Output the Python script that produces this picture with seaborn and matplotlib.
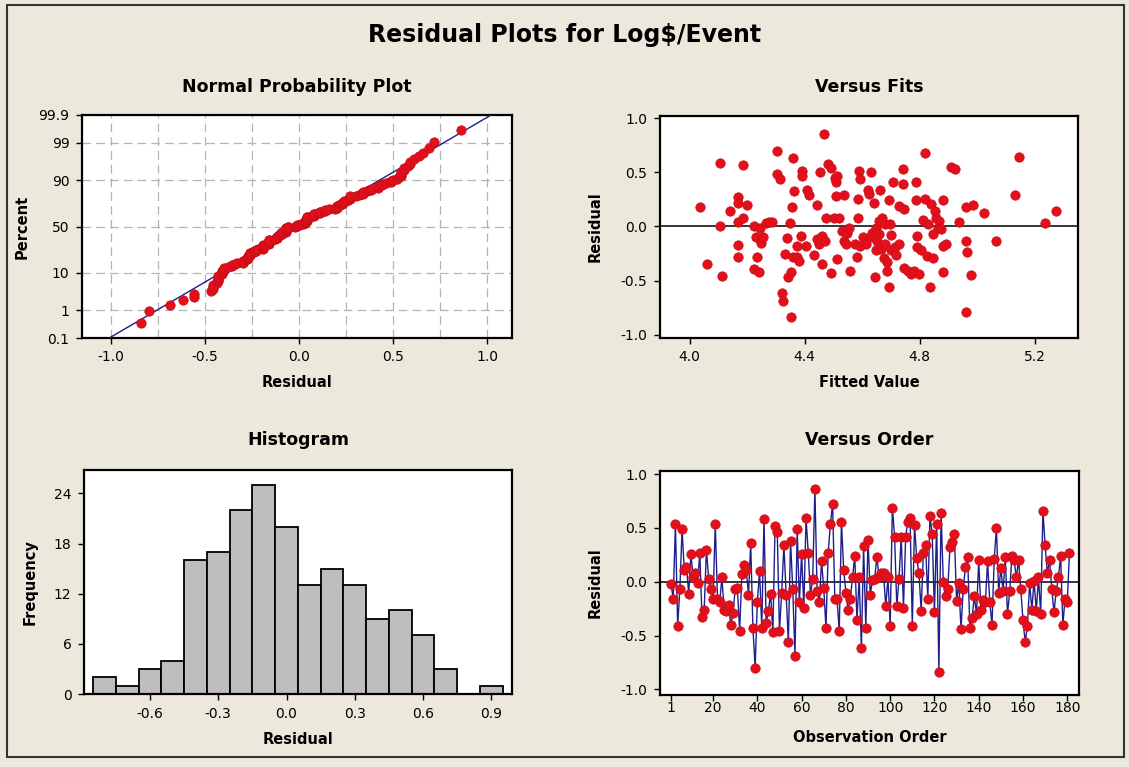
import numpy as np
import pandas as pd
import matplotlib
matplotlib.use("Agg")
import matplotlib.pyplot as plt
import seaborn as sns
from matplotlib.patches import Rectangle
from matplotlib.ticker import FormatStrFormatter

# ---------------- data ----------------
# residuals in observation order (Versus Order panel)
residuals = [
    -0.02, -0.16, 0.54, -0.41, -0.07, 0.49, 0.11, 0.14, -0.11, 0.26,
    0.04, 0.08, -0.01, 0.27, -0.33, -0.26, 0.30, 0.03, -0.07, -0.16,
    0.54, -0.16, -0.19, 0.04, -0.26, -0.27, -0.22, -0.40, -0.29, -0.07,
    -0.06, -0.46, 0.07, 0.16, 0.11, -0.12, 0.36, -0.43, -0.80, -0.19,
    0.10, -0.43, 0.58, -0.38, -0.27, -0.11, -0.47, 0.52, 0.46, -0.46,
    -0.10, 0.34, -0.12, -0.56, 0.38, -0.07, -0.69, 0.49, -0.19, 0.26,
    -0.24, 0.59, 0.27, -0.12, 0.03, 0.86, -0.09, -0.19, 0.19, -0.06,
    -0.43, 0.27, 0.54, 0.72, -0.16, -0.16, -0.46, 0.56, 0.11, -0.10,
    -0.26, -0.16, 0.04, 0.24, -0.36, 0.04, -0.62, 0.33, -0.43, 0.39,
    -0.12, 0.02, 0.03, 0.23, 0.04, 0.08, 0.08, -0.23, 0.04, -0.41,
    0.69, 0.42, -0.23, 0.03, 0.42, -0.24, 0.42, 0.56, 0.59, -0.41,
    0.53, 0.22, 0.08, -0.27, 0.27, 0.34, -0.16, 0.61, 0.44, -0.28,
    0.54, -0.84, 0.64, 0.00, -0.13, -0.07, 0.32, 0.37, 0.44, -0.18,
    -0.01, -0.44, -0.07, 0.14, 0.23, -0.43, -0.34, -0.13, -0.30, 0.20,
    -0.26, -0.17, -0.19, 0.19, -0.19, -0.40, 0.21, 0.50, -0.10, 0.13,
    -0.09, 0.23, -0.30, -0.09, 0.24, 0.20, 0.04, 0.20, -0.07, -0.36,
    -0.56, -0.41, -0.01, -0.26, 0.01, -0.27, 0.04, -0.30, 0.66, 0.34,
    0.08, 0.20, -0.07, -0.28, -0.09, 0.04, 0.24, -0.40, -0.16, -0.19,
    0.27,
]

# (fitted value, residual) pairs
fitted_values = [
    4.037, 4.062, 4.105, 4.105, 4.111, 4.142, 4.167, 4.170, 4.167, 4.167,
    4.167, 4.187, 4.187, 4.198, 4.223, 4.231, 4.234, 4.225, 4.240, 4.244,
    4.248, 4.256, 4.264, 4.275, 4.286, 4.305, 4.303, 4.314, 4.320, 4.325,
    4.339, 4.332, 4.350, 4.343, 4.353, 4.354, 4.355, 4.361, 4.364, 4.359,
    4.372, 4.381, 4.386, 4.392, 4.392, 4.375, 4.405, 4.409, 4.417, 4.434,
    4.442, 4.442, 4.450, 4.454, 4.460, 4.460, 4.467, 4.470, 4.476, 4.483,
    4.491, 4.491, 4.502, 4.506, 4.508, 4.508, 4.514, 4.511, 4.521, 4.531,
    4.536, 4.538, 4.543, 4.547, 4.558, 4.555, 4.575, 4.581, 4.586, 4.586,
    4.589, 4.591, 4.593, 4.603, 4.612, 4.621, 4.625, 4.631, 4.631, 4.636,
    4.642, 4.644, 4.647, 4.649, 4.652, 4.658, 4.660, 4.664, 4.667, 4.669,
    4.675, 4.681, 4.681, 4.686, 4.686, 4.692, 4.694, 4.697, 4.700, 4.702,
    4.708, 4.714, 4.719, 4.727, 4.730, 4.742, 4.742, 4.747, 4.747, 4.758,
    4.769, 4.780, 4.786, 4.786, 4.791, 4.791, 4.797, 4.805, 4.811, 4.819,
    4.819, 4.825, 4.830, 4.836, 4.841, 4.847, 4.847, 4.853, 4.858, 4.864,
    4.869, 4.875, 4.880, 4.880, 4.883, 4.891, 4.908, 4.924, 4.936, 4.961,
    4.963, 4.966, 4.963, 4.980, 4.986, 5.025, 5.067, 5.133, 5.147, 5.236,
    5.274,
]
fit_residuals = [
    0.18, -0.35, 0.59, 0.00, -0.46, 0.14, 0.27, 0.22, 0.04, -0.17,
    -0.28, 0.57, 0.08, 0.20, 0.00, -0.10, -0.28, -0.39, -0.42, -0.01,
    -0.15, -0.10, 0.03, 0.04, 0.04, 0.70, 0.48, 0.44, -0.61, -0.69,
    -0.11, -0.25, 0.03, -0.47, -0.42, -0.84, 0.18, 0.63, 0.33, -0.28,
    -0.28, -0.32, -0.09, 0.51, 0.47, -0.18, -0.18, 0.34, 0.29, -0.26,
    0.20, -0.12, -0.16, 0.50, -0.09, -0.35, 0.85, -0.13, 0.08, 0.58,
    0.54, -0.43, 0.08, 0.45, 0.41, 0.28, 0.47, -0.30, 0.08, -0.04,
    -0.13, 0.29, -0.16, -0.06, -0.41, -0.01, -0.16, -0.28, 0.25, 0.08,
    0.51, 0.44, -0.18, -0.10, -0.16, 0.34, 0.30, 0.50, -0.10, -0.06,
    0.22, -0.47, -0.01, -0.22, -0.13, 0.05, -0.07, 0.34, -0.21, 0.08,
    -0.29, -0.16, 0.02, -0.33, -0.41, 0.24, -0.56, 0.02, -0.22, -0.08,
    0.41, -0.19, -0.26, -0.16, 0.19, 0.53, 0.39, 0.16, -0.38, -0.41,
    -0.44, -0.41, 0.41, 0.24, -0.09, -0.19, -0.44, -0.22, 0.06, 0.68,
    0.25, -0.27, 0.02, -0.56, 0.21, -0.29, -0.07, 0.14, 0.08, -0.01,
    0.05, -0.02, 0.24, -0.42, -0.18, -0.16, 0.55, 0.53, 0.04, 0.18,
    -0.13, -0.24, -0.79, -0.45, 0.20, 0.12, -0.13, 0.29, 0.64, 0.03,
    0.14,
]

prob_ticks = [0.1, 1, 10, 50, 90, 99, 99.9]
prob_labels = ["0.1", "1", "10", "50", "90", "99", "99.9"]
order_ticks = [1, 20, 40, 60, 80, 100, 120, 140, 160, 180]

# ---------------- helpers ----------------
def norm_ppf(p):
    p = np.atleast_1d(np.asarray(p, dtype=float))
    a = [-3.969683028665376e+01, 2.209460984245205e+02, -2.759285104469687e+02,
         1.383577518672690e+02, -3.066479806614716e+01, 2.506628277459239e+00]
    b = [-5.447609879822406e+01, 1.615858368580409e+02, -1.556989798598866e+02,
         6.680131188771972e+01, -1.328068155288572e+01]
    c = [-7.784894002430293e-03, -3.223964580411365e-01, -2.400758277161838e+00,
         -2.549732539343734e+00, 4.374664141464968e+00, 2.938163982698783e+00]
    d = [7.784695709041462e-03, 3.224671290700398e-01, 2.445134137142996e+00,
         3.754408661907416e+00]
    plow = 0.02425
    out = np.empty_like(p)
    lo = p < plow
    hi = p > 1 - plow
    mid = ~(lo | hi)
    q = np.sqrt(-2 * np.log(p[lo]))
    out[lo] = (((((c[0]*q+c[1])*q+c[2])*q+c[3])*q+c[4])*q+c[5]) / ((((d[0]*q+d[1])*q+d[2])*q+d[3])*q+1)
    q = np.sqrt(-2 * np.log(1 - p[hi]))
    out[hi] = -(((((c[0]*q+c[1])*q+c[2])*q+c[3])*q+c[4])*q+c[5]) / ((((d[0]*q+d[1])*q+d[2])*q+d[3])*q+1)
    q = p[mid] - 0.5
    r = q * q
    out[mid] = (((((a[0]*r+a[1])*r+a[2])*r+a[3])*r+a[4])*r+a[5])*q / (((((b[0]*r+b[1])*r+b[2])*r+b[3])*r+b[4])*r+1)
    return out

# ---------------- style ----------------
sns.set_theme(style="ticks")
plt.rcParams["font.family"] = ["DejaVu Sans"]
plt.rcParams["axes.unicode_minus"] = False
for key in ("text.color", "axes.labelcolor", "xtick.color", "ytick.color",
            "xtick.labelcolor", "ytick.labelcolor"):
    plt.rcParams[key] = "black"

BG = "#ECE9DC"
RED = "#E3101C"
RED_EDGE = "#C80E18"
NAVY = "#1E1E8C"
W, H = 1129, 767

fig = plt.figure(figsize=(W / 100, H / 100), dpi=100, facecolor=BG)

def rect(x0, y0, x1, y1):
    return [x0 / W, 1 - y1 / H, (x1 - x0) / W, (y1 - y0) / H]

def style_axes(ax):
    ax.set_facecolor("white")
    for s in ax.spines.values():
        s.set_visible(True)
        s.set_color("black")
        s.set_linewidth(1.6)
    ax.tick_params(direction="out", length=4, width=1, colors="black",
                   labelsize=10, pad=5)

def labels(ax, xlabel, ylabel, xl_y, yl_x):
    ax.set_xlabel(xlabel, fontsize=10.5, fontweight="bold", color="black")
    ax.set_ylabel(ylabel, fontsize=10.5, fontweight="bold", color="black")
    ax.xaxis.label.set_va("center")
    ax.yaxis.label.set_va("center")
    ax.xaxis.set_label_coords(0.5, xl_y)
    ax.yaxis.set_label_coords(yl_x, 0.5)

# outer frame
fig.patches.append(Rectangle((7 / W, 1 - 757 / H), (1124 - 7) / W, (757 - 5) / H,
                             transform=fig.transFigure, fill=False,
                             edgecolor="#333333", linewidth=1.5))

fig.text(565 / W, 1 - 35 / H, r"Residual Plots for Log\$/Event", ha="center",
         va="center", fontsize=17, fontweight="bold", color="black")

res = np.asarray(residuals)
n = len(res)
dot_kw = dict(s=46, color=RED, edgecolor=RED_EDGE, linewidth=0.5)

# ---------------- Normal probability plot ----------------
ax1 = fig.add_axes(rect(82, 115, 512, 338))
style_axes(ax1)
srt = np.sort(res)
ranks = (np.arange(1, n + 1) - 0.3) / (n + 0.4)
zvals = norm_ppf(ranks)
zlim = norm_ppf([0.001, 0.999])
mu, sd = res.mean(), res.std(ddof=1)
line_df = pd.DataFrame({"x": mu + sd * zlim, "z": zlim})
sns.lineplot(data=line_df, x="x", y="z", color=NAVY, linewidth=1.0,
             sort=False, estimator=None, ax=ax1, zorder=3)
sns.scatterplot(x=srt, y=zvals, ax=ax1, zorder=4, **dot_kw)
ax1.set_xlim(-1.156, 1.133)
ax1.set_ylim(zlim[0], zlim[1])
ax1.set_xticks([-1.0, -0.5, 0.0, 0.5, 1.0])
ax1.set_xticks([-0.75, -0.25, 0.25, 0.75], minor=True)
ax1.xaxis.set_major_formatter(FormatStrFormatter("%.1f"))
ax1.set_yticks(norm_ppf(np.asarray(prob_ticks) / 100.0))
ax1.set_yticklabels(prob_labels)
ax1.tick_params(which="minor", length=0)
ax1.grid(True, which="both", color="#B4B4B4", linestyle=(0, (7, 4)), linewidth=0.9)
ax1.set_axisbelow(True)
labels(ax1, "Residual", "Percent", -0.20, -0.14)
fig.text(297 / W, 1 - 87 / H, "Normal Probability Plot", ha="center",
         va="center", fontsize=12.5, fontweight="bold", color="black")

# ---------------- Versus Fits ----------------
ax2 = fig.add_axes(rect(660, 116, 1078, 338))
style_axes(ax2)
ax2.axhline(0, color="black", linewidth=1.1, zorder=2)
sns.scatterplot(x=fitted_values, y=fit_residuals, ax=ax2, zorder=4, **dot_kw)
ax2.set_xlim(3.897, 5.351)
ax2.set_ylim(-1.03, 1.02)
ax2.set_xticks([4.0, 4.4, 4.8, 5.2])
ax2.set_yticks([-1.0, -0.5, 0.0, 0.5, 1.0])
ax2.xaxis.set_major_formatter(FormatStrFormatter("%.1f"))
ax2.yaxis.set_major_formatter(FormatStrFormatter("%.1f"))
labels(ax2, "Fitted Value", "Residual", -0.20, -0.155)
fig.text(869 / W, 1 - 87 / H, "Versus Fits", ha="center", va="center",
         fontsize=12.5, fontweight="bold", color="black")

# ---------------- Histogram ----------------
ax3 = fig.add_axes(rect(84, 470, 512, 694))
style_axes(ax3)
sns.histplot(x=res, bins=np.arange(-0.85, 0.96, 0.1), color="#BEBEBE",
             edgecolor="black", linewidth=1.3, alpha=1.0, ax=ax3)
ax3.set_xlim(-0.89, 0.991)
ax3.set_ylim(0, 26.8)
ax3.set_xticks([-0.6, -0.3, 0.0, 0.3, 0.6, 0.9])
ax3.set_yticks([0, 6, 12, 18, 24])
ax3.xaxis.set_major_formatter(FormatStrFormatter("%.1f"))
labels(ax3, "Residual", "Frequency", -0.205, -0.126)
fig.text(298 / W, 1 - 440 / H, "Histogram", ha="center", va="center",
         fontsize=12.5, fontweight="bold", color="black")

# ---------------- Versus Order ----------------
ax4 = fig.add_axes(rect(660, 471, 1079, 695))
style_axes(ax4)
order = np.arange(1, n + 1)
ax4.axhline(0, color="black", linewidth=1.1, zorder=2)
sns.lineplot(x=order, y=res, color=NAVY, linewidth=1.0, sort=False,
             estimator=None, ax=ax4, zorder=3)
sns.scatterplot(x=order, y=res, ax=ax4, zorder=4, **dot_kw)
ax4.set_xlim(-3.97, 185.3)
ax4.set_ylim(-1.053, 1.03)
ax4.set_xticks(order_ticks)
ax4.set_yticks([-1.0, -0.5, 0.0, 0.5, 1.0])
ax4.yaxis.set_major_formatter(FormatStrFormatter("%.1f"))
ax4.tick_params(axis="x", pad=0.5)
labels(ax4, "Observation Order", "Residual", -0.19, -0.155)
fig.text(869 / W, 1 - 440 / H, "Versus Order", ha="center", va="center",
         fontsize=12.5, fontweight="bold", color="black")

fig.savefig("out.png", dpi=100, facecolor=BG)
